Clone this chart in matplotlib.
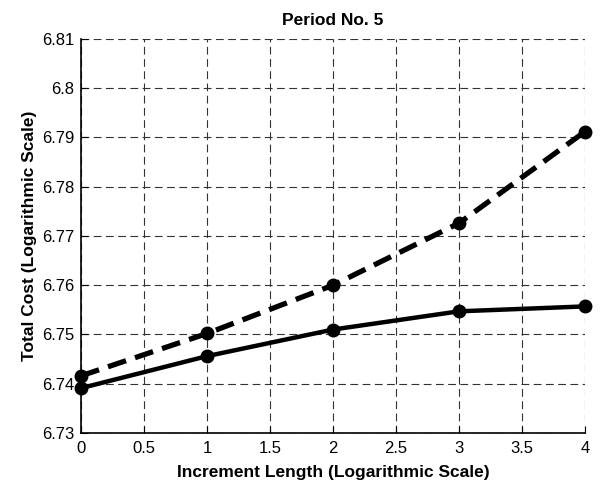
import matplotlib.pyplot as plt

plt.rcParams['font.family'] = ['Liberation Sans', 'DejaVu Sans']

# Data
x = [0, 1, 2, 3, 4]
cost_dashed = [6.7416, 6.7502, 6.7600, 6.7726, 6.7912]
cost_solid = [6.7391, 6.7456, 6.7510, 6.7547, 6.7557]

xticks = [0, 0.5, 1, 1.5, 2, 2.5, 3, 3.5, 4]
xtick_labels = ["0", "0.5", "1", "1.5", "2", "2.5", "3", "3.5", "4"]
yticks = [6.73, 6.74, 6.75, 6.76, 6.77, 6.78, 6.79, 6.80, 6.81]
ytick_labels = ["6.73", "6.74", "6.75", "6.76", "6.77", "6.78", "6.79", "6.8", "6.81"]

fig = plt.figure(figsize=(6.03, 4.86), dpi=100)
ax = fig.add_axes([0.1343, 0.1091, 0.8358, 0.8107])

ax.plot(x, cost_dashed, color="black", linestyle="--", linewidth=3.8,
        marker="o", markersize=9, dashes=(3.6, 1.8), clip_on=False, zorder=3)
ax.plot(x, cost_solid, color="black", linestyle="-", linewidth=3.2,
        marker="o", markersize=9, clip_on=False, zorder=3)

ax.set_xlim(0, 4)
ax.set_ylim(6.73, 6.81)
ax.set_xticks(xticks)
ax.set_xticklabels(xtick_labels)
ax.set_yticks(yticks)
ax.set_yticklabels(ytick_labels)

ax.grid(True, color="#333333", linestyle=(0, (7, 4)), linewidth=0.8)
ax.spines["top"].set_visible(False)
ax.spines["right"].set_visible(False)
ax.spines["left"].set_linewidth(1.2)
ax.spines["bottom"].set_linewidth(1.2)
ax.tick_params(axis="x", direction="in", length=5, labelsize=12, pad=6)
ax.tick_params(axis="y", direction="in", length=5, labelsize=12, pad=5)

ax.set_title("Period No. 5", fontsize=12.5, fontweight="bold", pad=10)
ax.set_xlabel("Increment Length (Logarithmic Scale)", fontsize=12.5,
              fontweight="bold", labelpad=6)
ax.set_ylabel("Total Cost (Logarithmic Scale)", fontsize=12.5,
              fontweight="bold", labelpad=3)

fig.savefig("out.png", dpi=100)
